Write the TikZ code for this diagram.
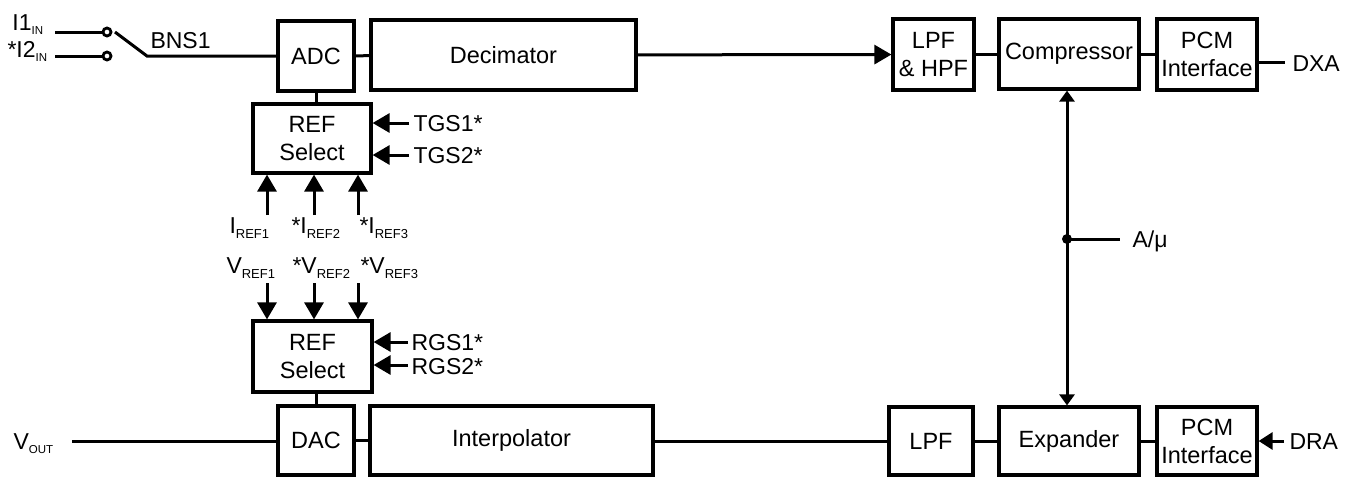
\documentclass[tikz,border=0pt]{standalone}
\usepackage{fontspec}
\setmainfont{Liberation Sans}
\usetikzlibrary{arrows.meta}
\newcommand{\sbx}[1]{\raisebox{-5pt}{\fontsize{13}{13}\selectfont #1}}
\newcommand{\sbs}[1]{\raisebox{-4pt}{\fontsize{11.5}{11.5}\selectfont #1}}
\begin{document}
\begin{tikzpicture}[x=1pt,y=-1pt, line width=3pt,
  blk/.style={draw, line width=3.2pt, inner sep=0pt, align=center, font=\fontsize{23.5}{28}\selectfont},
  lbl/.style={inner sep=0pt, anchor=base west, font=\fontsize{23}{26}\selectfont},
  bigarr/.style={-{Triangle[length=17pt,width=19pt]}},
  smallarr/.style={{Triangle[length=11pt,width=15pt]}-{Triangle[length=11pt,width=15pt]}},
  midarr/.style={-{Triangle[length=14pt,width=17pt]}},
  sw/.style={circle, draw, fill=white, line width=2.8pt, minimum size=8pt, inner sep=0pt}]
\useasboundingbox (0,0) rectangle (1354,477);

% top chain
\node[blk, minimum width=76pt, minimum height=70pt] (adc) at (316,56) {ADC};
\node[blk, minimum width=265pt, minimum height=70pt] (dec) at (503.5,55) {Decimator};
\node[blk, minimum width=81pt, minimum height=71pt] (lph) at (933.5,54.5) {LPF\\\& HPF};
\node[blk, minimum width=140pt, minimum height=70pt] (comp) at (1069,54) {Compressor};
\node[blk, minimum width=100pt, minimum height=71pt] (pcma) at (1207,54.5) {PCM\\Interface};

% reference selects
\node[blk, minimum width=118pt, minimum height=69pt] (refa) at (312,138.5) {REF\\Select};
\node[blk, minimum width=119pt, minimum height=71pt] (refb) at (312.5,356.5) {REF\\Select};

% bottom chain
\node[blk, minimum width=76pt, minimum height=69pt] (dac) at (316,440.5) {DAC};
\node[blk, minimum width=283pt, minimum height=69pt] (intp) at (511.5,440.5) {Interpolator};
\node[blk, minimum width=84pt, minimum height=68pt] (lpf) at (931,441) {LPF};
\node[blk, minimum width=140pt, minimum height=68pt] (exp) at (1069,441) {Expander};
\node[blk, minimum width=100pt, minimum height=68pt] (pcmb) at (1207,441) {PCM\\Interface};

% switch
\node[sw] (s1) at (107,32) {};
\node[sw] (s2) at (107,56) {};
\coordinate (in1) at (55,32);
\coordinate (in2) at (55,56);
\coordinate (bl) at (115,32);
\coordinate (bp) at (147,56);
\draw (in1) -- (s1);
\draw (in2) -- (s2);
\draw (bl) -- (bp) -- (bp -| adc.west);
\node[lbl] (li1) at (11,30) {I1\sbs{IN}};
\node[lbl] (li2) at (6,57) {*I2\sbs{IN}};
\node[lbl] (lbns) at (149,48) {BNS1};

% top connections
\draw (adc) -- (dec);
\draw[bigarr] (dec) -- (lph);
\draw (lph.east |- comp) -- (comp);
\draw (comp) -- (pcma.west |- comp);
\coordinate (dxa) at (1285,62);
\draw (dxa -| pcma.east) -- (dxa);
\node[lbl] (ldxa) at (1291,71) {DXA};

% ADC - REF select
\draw (adc.south) -- (adc.south |- refa.north);
\coordinate (tg1) at (409,123);
\coordinate (tg2) at (409,155);
\draw[bigarr] (tg1) -- (tg1 -| refa.east);
\draw[bigarr] (tg2) -- (tg2 -| refa.east);
\node[lbl] (ltg1) at (412,131) {TGS1*};
\node[lbl] (ltg2) at (412,163) {TGS2*};

\coordinate (ia) at (267,215);
\coordinate (ib) at (314,215);
\coordinate (ic) at (358,215);
\draw[bigarr] (ia) -- (ia |- refa.south);
\draw[bigarr] (ib) -- (ib |- refa.south);
\draw[bigarr] (ic) -- (ic |- refa.south);
\node[lbl] (lia) at (228,233) {I\sbx{REF1}};
\node[lbl] (lib) at (290,233) {*I\sbx{REF2}};
\node[lbl] (lic) at (358,233) {*I\sbx{REF3}};

\node[lbl] (lva) at (225,273) {V\sbx{REF1}};
\node[lbl] (lvb) at (291,273) {*V\sbx{REF2}};
\node[lbl] (lvc) at (359,273) {*V\sbx{REF3}};
\coordinate (va) at (267,283);
\coordinate (vb) at (314,283);
\coordinate (vc) at (358,283);
\draw[bigarr] (va) -- (va |- refb.north);
\draw[bigarr] (vb) -- (vb |- refb.north);
\draw[bigarr] (vc) -- (vc |- refb.north);

\coordinate (rg1) at (408,342);
\coordinate (rg2) at (408,365);
\draw[bigarr] (rg1) -- (rg1 -| refb.east);
\draw[bigarr] (rg2) -- (rg2 -| refb.east);
\node[lbl] (lrg1) at (410,350) {RGS1*};
\node[lbl] (lrg2) at (410,374) {RGS2*};

\draw (dac.north |- refb.south) -- (dac.north);

% bottom connections
\coordinate (vo) at (72,441);
\draw (vo) -- (vo -| dac.west);
\node[lbl] (lvo) at (12,449) {V\sbs{OUT}};
\draw (dac) -- (intp);
\draw (intp.east |- lpf) -- (lpf);
\draw (lpf) -- (exp);
\draw (exp) -- (pcmb);
\coordinate (dra) at (1284,441);
\draw[midarr] (dra) -- (pcmb.east |- dra);
\node[lbl] (ldra) at (1288,449) {DRA};

% A/mu
\coordinate (junc) at (1067,239);
\coordinate (amu) at (1120,239);
\draw[smallarr] (junc |- comp.south) -- (junc |- exp.north);
\draw (junc) -- (amu);
\fill (junc) circle (5pt);
\node[lbl] (lamu) at (1131,247) {A/μ};
\end{tikzpicture}
\end{document}
